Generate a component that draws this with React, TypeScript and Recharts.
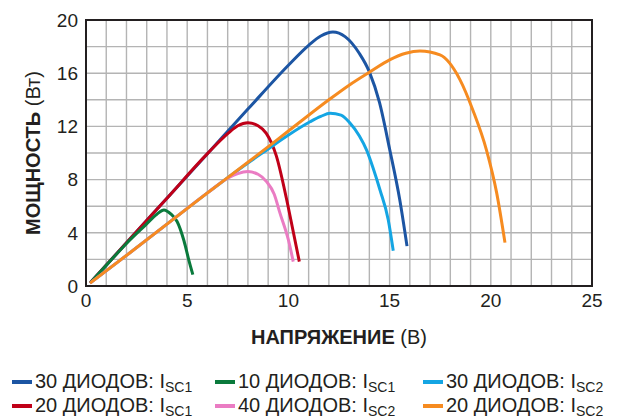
import React from 'react';
import { LineChart, Line, XAxis, YAxis, CartesianGrid, Legend, ReferenceArea } from 'recharts';

const FONT = '"Liberation Sans", Arial, Helvetica, sans-serif';
const TEXT = '#231f20';

const xTicks = [0, 5, 10, 15, 20, 25];
const yTicks = [0, 4, 8, 12, 16, 20];
const gridX = [0, 1, 2, 3, 4, 5, 6, 7, 8, 9, 10, 11, 12, 13, 14, 15, 16, 17, 18, 19, 20, 21, 22, 23, 24, 25];
const gridY = [0, 2, 4, 6, 8, 10, 12, 14, 16, 18, 20];

// напряжение (В) -> мощность (Вт)
const d30Isc1 = [
  { v: 0.2, p: 0.22 }, { v: 2, p: 3.25 }, { v: 4, p: 6.6 }, { v: 6, p: 9.95 }, { v: 8, p: 13.3 },
  { v: 10, p: 16.6 }, { v: 11, p: 18.1 }, { v: 11.6, p: 18.8 }, { v: 12.2, p: 19.1 }, { v: 12.8, p: 18.75 },
  { v: 13.5, p: 17.5 }, { v: 14.0, p: 16.1 }, { v: 14.5, p: 13.8 }, { v: 15.0, p: 10.3 }, { v: 15.5, p: 6.5 },
  { v: 15.86, p: 3.0 },
];
const d20Isc1 = [
  { v: 0.2, p: 0.22 }, { v: 2, p: 3.25 }, { v: 4, p: 6.6 }, { v: 6, p: 9.95 }, { v: 7, p: 11.45 },
  { v: 7.5, p: 12.05 }, { v: 8.0, p: 12.28 }, { v: 8.5, p: 12.05 }, { v: 8.9, p: 11.5 }, { v: 9.4, p: 9.8 },
  { v: 9.9, p: 6.6 }, { v: 10.25, p: 4.0 }, { v: 10.54, p: 1.83 },
];
const d10Isc1 = [
  { v: 0.2, p: 0.22 }, { v: 1, p: 1.55 }, { v: 2, p: 3.2 }, { v: 2.95, p: 4.6 }, { v: 3.5, p: 5.4 },
  { v: 3.85, p: 5.72 }, { v: 4.2, p: 5.4 }, { v: 4.5, p: 4.85 }, { v: 4.84, p: 3.4 }, { v: 5.08, p: 1.95 },
  { v: 5.28, p: 0.85 },
];
const d30Isc2 = [
  { v: 0.2, p: 0.22 }, { v: 2, p: 2.3 }, { v: 4, p: 4.65 }, { v: 6, p: 7.0 }, { v: 8, p: 9.25 },
  { v: 9, p: 10.3 }, { v: 10, p: 11.35 }, { v: 11.07, p: 12.35 }, { v: 11.6, p: 12.75 }, { v: 12.06, p: 12.98 },
  { v: 12.6, p: 12.85 }, { v: 13.04, p: 12.25 }, { v: 13.5, p: 11.3 }, { v: 13.87, p: 10.2 }, { v: 14.2, p: 8.8 },
  { v: 14.53, p: 7.2 }, { v: 14.93, p: 5.0 }, { v: 15.18, p: 2.65 },
];
const d40Isc2 = [
  { v: 0.2, p: 0.22 }, { v: 2, p: 2.3 }, { v: 4, p: 4.65 }, { v: 6, p: 7.0 }, { v: 7, p: 8.1 },
  { v: 7.5, p: 8.45 }, { v: 8.0, p: 8.6 }, { v: 8.5, p: 8.4 }, { v: 8.92, p: 7.85 }, { v: 9.3, p: 6.9 },
  { v: 9.58, p: 5.5 }, { v: 10.0, p: 3.46 }, { v: 10.24, p: 1.83 },
];
const d20Isc2 = [
  { v: 0.2, p: 0.22 }, { v: 2, p: 2.3 }, { v: 4, p: 4.65 }, { v: 6, p: 7.0 }, { v: 8, p: 9.3 },
  { v: 10, p: 11.65 }, { v: 12, p: 14.0 }, { v: 13, p: 15.1 }, { v: 14.03, p: 16.1 }, { v: 15.0, p: 17.0 },
  { v: 15.8, p: 17.5 }, { v: 16.5, p: 17.67 }, { v: 17.49, p: 17.37 }, { v: 18.48, p: 15.5 }, { v: 19.12, p: 13.2 },
  { v: 19.79, p: 10.2 }, { v: 20.29, p: 7.0 }, { v: 20.7, p: 3.26 },
];

const series = [
  { id: 'd30Isc1', data: d30Isc1, color: '#1c55a3', count: '30', sub: 'SC1' },
  { id: 'd20Isc1', data: d20Isc1, color: '#c00018', count: '20', sub: 'SC1' },
  { id: 'd10Isc1', data: d10Isc1, color: '#0a7a3c', count: '10', sub: 'SC1' },
  { id: 'd30Isc2', data: d30Isc2, color: '#14a5e3', count: '30', sub: 'SC2' },
  { id: 'd40Isc2', data: d40Isc2, color: '#ea7cc3', count: '40', sub: 'SC2' },
  { id: 'd20Isc2', data: d20Isc2, color: '#f68b20', count: '20', sub: 'SC2' },
];

const legendOrder = ['d30Isc1', 'd10Isc1', 'd30Isc2', 'd20Isc1', 'd40Isc2', 'd20Isc2'];
const legendColX = [12, 215, 423];
const legendRowY = [14, 38];

function LegendContent() {
  return (
    <div style={{ position: 'relative', width: 619, height: 63, fontFamily: FONT, color: TEXT }}>
      {legendOrder.map((id, i) => {
        const s = series.find((x) => x.id === id)!;
        return (
          <div
            key={id}
            style={{
              position: 'absolute',
              left: legendColX[i % 3],
              top: legendRowY[Math.floor(i / 3)],
              display: 'flex',
              alignItems: 'center',
              fontSize: 20,
              lineHeight: '22px',
              whiteSpace: 'nowrap',
            }}
          >
            <span style={{ display: 'inline-block', width: 20, height: 4, background: s.color, marginRight: 3 }} />
            <span>
              {s.count} ДИОДОВ: I
              <span style={{ fontSize: 14, position: 'relative', top: 4 }}>{s.sub}</span>
            </span>
          </div>
        );
      })}
    </div>
  );
}

const XTitle = (props: any) => {
  const { viewBox } = props;
  return (
    <text x={viewBox.x + viewBox.width / 2} y={viewBox.y + 58} textAnchor="middle" fill={TEXT} fontFamily={FONT} fontSize={20}>
      <tspan fontWeight="bold">НАПРЯЖЕНИЕ</tspan>
      <tspan> (В)</tspan>
    </text>
  );
};

const YTitle = (props: any) => {
  const { viewBox } = props;
  const x = viewBox.x + 40;
  const y = viewBox.y + viewBox.height / 2;
  return (
    <text x={x} y={y} transform={`rotate(-90, ${x}, ${y})`} textAnchor="middle" fill={TEXT} fontFamily={FONT} fontSize={20}>
      <tspan fontWeight="bold">МОЩНОСТЬ</tspan>
      <tspan> (Вт)</tspan>
    </text>
  );
};

export default function App() {
  const tick = { fill: TEXT, fontSize: 19, fontFamily: FONT };
  return (
    <div style={{ position: 'absolute', left: 0, top: 0, background: '#fff' }}>
      <LineChart width={619} height={419} margin={{ top: 20, right: 27, left: 0, bottom: 0 }}>
        <CartesianGrid
          stroke="#b4b4b4"
          strokeWidth={1.4}
          verticalCoordinatesGenerator={({ offset }: any) =>
            gridX.map((v) => offset.left + (v / 25) * offset.width)
          }
          horizontalCoordinatesGenerator={({ offset }: any) =>
            gridY.map((v) => offset.top + offset.height - (v / 20) * offset.height)
          }
        />
        <XAxis
          type="number"
          dataKey="v"
          domain={[0, 25]}
          ticks={xTicks}
          allowDataOverflow
          height={70}
          tickLine={false}
          axisLine={{ stroke: TEXT, strokeWidth: 2 }}
          tick={tick}
          label={<XTitle />}
        />
        <YAxis
          type="number"
          dataKey="p"
          domain={[0, 20]}
          ticks={yTicks}
          allowDataOverflow
          width={86}
          tickLine={false}
          axisLine={{ stroke: TEXT, strokeWidth: 2 }}
          tick={tick}
          label={<YTitle />}
        />
        <ReferenceArea x1={0} x2={25} y1={0} y2={20} fill="none" fillOpacity={0} stroke={TEXT} strokeWidth={2} />
        {series.map((s) => (
          <Line
            key={s.id}
            data={s.data}
            dataKey="p"
            type="monotone"
            stroke={s.color}
            strokeWidth={3}
            dot={false}
            activeDot={false}
            isAnimationActive={false}
          />
        ))}
        <Legend verticalAlign="bottom" height={63} content={<LegendContent />} wrapperStyle={{ left: 0, bottom: 0, width: 619 }} />
      </LineChart>
    </div>
  );
}
